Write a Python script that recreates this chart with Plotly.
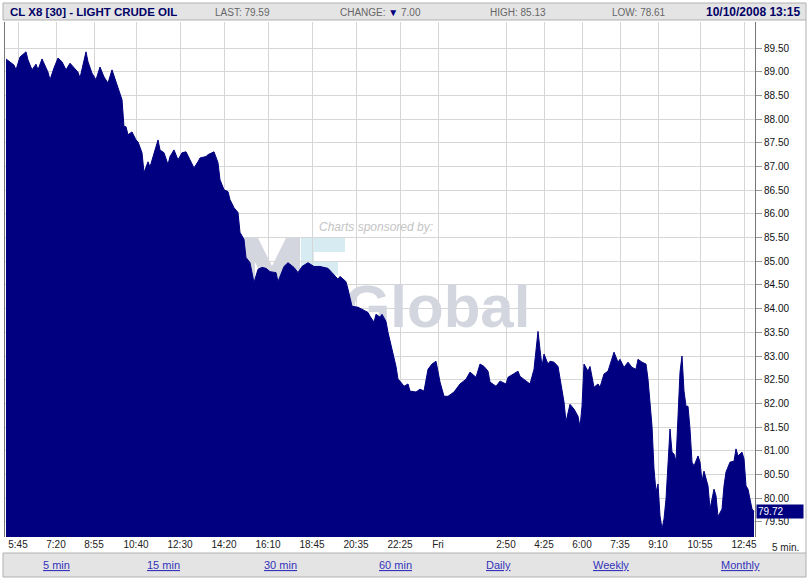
import plotly.graph_objects as go

# ---- data (5-minute bar index, price) ----
bar_index = [0, 2, 4, 5, 7, 10, 11, 13, 15, 16, 18, 21, 22, 24, 26, 28, 30, 32, 34, 36, 37,
             40, 41, 43, 45, 46, 47, 49, 51, 53, 55, 56, 58, 59, 60, 61, 63, 65, 66, 68, 69,
             71, 72, 76, 77, 79, 81, 82, 84, 86, 88, 90, 92, 94, 96, 97, 100, 101, 104, 106,
             107, 109, 111, 112, 114, 116, 117, 119, 120, 122, 124, 126, 128, 130, 132, 135,
             136, 139, 141, 144, 146, 148, 151, 154, 157, 161, 163, 166, 167, 170, 171, 173,
             176, 178, 181, 182, 184, 185, 187, 188, 190, 191, 193, 195, 196, 197, 199, 201,
             202, 205, 207, 209, 211, 213, 215, 217, 219, 221, 224, 227, 230, 232, 235, 237,
             239, 241, 242, 245, 247, 250, 251, 254, 256, 257, 260, 262, 264, 265, 266, 267,
             268, 269, 271, 272, 274, 276, 277, 279, 280, 282, 284, 286, 287, 288, 289, 291,
             292, 294, 296, 297, 299, 301, 304, 306, 307, 309, 311, 313, 315, 316, 318, 320,
             321, 322, 323, 324, 325, 326, 327, 328, 329, 330, 331, 332, 333, 334, 335, 336,
             337, 338, 339, 340, 341, 342, 343, 344, 346, 347, 348, 349, 351, 352, 354, 355,
             356, 358, 359, 360, 362, 364, 365, 366, 368, 369, 370, 371, 373, 374]
price = [89.27, 89.21, 89.14, 89.04, 89.31, 89.42, 89.25, 89.04, 89.16, 89.04, 89.27, 88.99,
         88.83, 89.08, 89.29, 89.21, 89.04, 89.18, 89.08, 88.99, 88.87, 89.42, 89.21, 88.97,
         88.83, 88.99, 89.10, 88.89, 88.76, 89.04, 88.78, 88.68, 88.41, 87.84, 87.84, 87.67,
         87.73, 87.56, 87.52, 87.29, 86.87, 87.10, 86.99, 87.56, 87.35, 87.29, 87.04, 87.21,
         87.35, 87.14, 87.29, 87.31, 87.14, 86.97, 87.10, 87.18, 87.21, 87.25, 87.31, 87.08,
         86.72, 86.51, 86.47, 86.30, 86.13, 86.03, 85.61, 85.46, 85.08, 84.97, 84.55, 84.83,
         84.87, 84.85, 84.78, 84.76, 84.57, 84.89, 84.97, 84.87, 84.76, 84.89, 84.97, 84.89,
         84.89, 84.85, 84.76, 84.62, 84.68, 84.57, 84.41, 84.05, 84.03, 83.98, 83.92, 83.84,
         83.71, 83.88, 83.82, 83.88, 83.73, 83.50, 83.14, 82.78, 82.51, 82.47, 82.36, 82.41,
         82.26, 82.24, 82.30, 82.26, 82.72, 82.83, 82.89, 82.45, 82.15, 82.15, 82.24, 82.41,
         82.51, 82.66, 82.55, 82.83, 82.78, 82.68, 82.45, 82.36, 82.47, 82.41, 82.55, 82.62,
         82.68, 82.57, 82.47, 82.41, 82.72, 83.14, 83.52, 83.14, 82.78, 83.04, 82.83, 82.89,
         82.87, 82.78, 82.51, 82.03, 81.61, 81.98, 81.88, 81.73, 81.50, 81.94, 82.83, 82.68,
         82.78, 82.34, 82.41, 82.34, 82.62, 82.68, 83.08, 82.87, 82.93, 82.76, 82.87, 82.76,
         82.72, 82.93, 82.87, 82.83, 82.51, 81.94, 81.52, 80.62, 80.13, 80.30, 79.63, 79.35,
         79.56, 79.98, 80.78, 81.46, 80.97, 80.93, 80.78, 81.82, 82.66, 83.00, 82.26, 81.94,
         81.94, 81.46, 80.76, 80.68, 80.89, 80.76, 80.36, 80.57, 80.26, 79.77, 80.19, 80.05,
         79.61, 79.77, 80.26, 80.55, 80.76, 80.78, 81.04, 80.89, 80.97, 80.83, 80.26, 80.19,
         79.77, 79.72]

tick_bars = [6, 25, 44, 65, 87, 109, 131, 153, 175, 197, 216, 250, 269, 288, 307, 326, 347, 369]
tick_labels = ["5:45", "7:20", "8:55", "10:40", "12:30", "14:20", "16:10", "18:45", "20:35",
               "22:25", "Fri", "2:50", "4:25", "6:00", "7:35", "9:10", "10:55", "12:45"]
price_ticks = [79.5, 80.0, 80.5, 81.0, 81.5, 82.0, 82.5, 83.0, 83.5, 84.0, 84.5, 85.0,
               85.5, 86.0, 86.5, 87.0, 87.5, 88.0, 88.5, 89.0, 89.5]

title_text = "CL X8 [30] - LIGHT CRUDE OIL"
last_value = 79.59
change_value = 7.00
high_value = 85.13
low_value = 78.61
stamp_text = "10/10/2008 13:15"
current_value = price[-1]
link_labels = ["5 min", "15 min", "30 min", "60 min", "Daily", "Weekly", "Monthly"]

# ---- geometry helpers (pixel -> paper) ----
W, H = 811, 579
L, R, T, B = 5, 56, 22, 42
PW, PH = W - L - R, H - T - B


def px(x):
    return (x - L) / PW


def py(y):
    return (H - B - y) / PH


def poly(points):
    return "M " + " L ".join(f"{px(a):.5f},{py(b):.5f}" for a, b in points) + " Z"


NAVY = "#000080"
fig = go.Figure()

# watermark word (drawn first so the price area covers it)
fig.add_trace(go.Scatter(x=[215.5], y=[83.93], mode="text", text=["Global"], hoverinfo="skip",
                         textfont=dict(family="Liberation Sans", size=60,
                                       color="#d3d6de", weight="bold"), showlegend=False))
fig.add_trace(go.Scatter(x=[185], y=[85.70], mode="text", text=["<i>Charts sponsored by:</i>"],
                         hoverinfo="skip",
                         textfont=dict(family="Liberation Sans", size=12, color="#c4c4c4"),
                         showlegend=False))

# price area
fig.add_trace(go.Scatter(x=bar_index, y=price, mode="lines", fill="tozeroy",
                         line=dict(color=NAVY, width=1), fillcolor=NAVY, showlegend=False))

fig.update_xaxes(range=[-0.5, 374.5], tickvals=tick_bars, ticktext=tick_labels,
                 showgrid=True, gridcolor="#d6d6d6", gridwidth=1, zeroline=False,
                 showline=False, ticks="",
                 tickfont=dict(family="Liberation Sans", size=10, color="#222"))
fig.update_yaxes(range=[79.18, 90.05], side="right", tickvals=price_ticks,
                 tickformat=".2f", ticks="outside", ticklen=6, tickcolor="#999",
                 showline=True, linecolor="#777", linewidth=1, mirror=True,
                 showgrid=True, gridcolor="#d6d6d6", zeroline=False,
                 tickfont=dict(family="Liberation Sans", size=10, color="#111"))

shapes = [
    # header strip
    dict(type="rect", xref="paper", yref="paper", x0=px(3), x1=px(806), y0=py(20), y1=py(3),
         fillcolor="#e4e4e4", line=dict(color="#b0b0b0", width=1), layer="below"),
    # link strip
    dict(type="rect", xref="paper", yref="paper", x0=px(3), x1=px(806), y0=py(577), y1=py(553),
         fillcolor="#e4e4e4", line=dict(color="#b0b0b0", width=1), layer="below"),
    # right frame line
    dict(type="line", xref="paper", yref="paper", x0=px(806), x1=px(806), y0=py(553), y1=py(20),
         line=dict(color="#b0b0b0", width=1)),
    # sponsor logo "M" (graphic)
    dict(type="path", xref="paper", yref="paper", layer="below", line=dict(width=0),
         fillcolor="#d3d6de",
         path=poly([(243, 238), (258, 238), (272, 266), (286, 238), (300, 238), (300, 300),
                    (289, 300), (289, 262), (276, 290), (268, 290), (255, 262), (255, 300),
                    (243, 300)])),
    # sponsor logo "F" (graphic)
    dict(type="path", xref="paper", yref="paper", layer="below", line=dict(width=0),
         fillcolor="#d6ebf2",
         path=poly([(301, 238), (345, 238), (345, 252), (314, 252), (314, 262), (338, 262),
                    (338, 275), (314, 275), (314, 300), (301, 300)])),
]

gray = "#666666"
ann = [
    dict(x=px(8), y=py(12), xanchor="left", text=f"<b>{title_text}</b>",
         font=dict(family="Liberation Sans", size=11.5, color="#000066")),
    dict(x=px(213), y=py(12), xanchor="left", text=f"LAST: {last_value:.2f}",
         font=dict(family="Liberation Sans", size=10, color=gray)),
    dict(x=px(338), y=py(12), xanchor="left",
         text=f"CHANGE: <span style='color:{NAVY}'>▼</span> {change_value:.2f}",
         font=dict(family="Liberation Sans", size=10, color=gray)),
    dict(x=px(488), y=py(12), xanchor="left", text=f"HIGH: {high_value:.2f}",
         font=dict(family="Liberation Sans", size=10, color=gray)),
    dict(x=px(610), y=py(12), xanchor="left", text=f"LOW: {low_value:.2f}",
         font=dict(family="Liberation Sans", size=10, color=gray)),
    dict(x=px(802), y=py(12), xanchor="right", text=f"<b>{stamp_text}</b>",
         font=dict(family="Liberation Sans", size=12, color="#000066")),
    # current value box
    dict(x=px(756), y=current_value, yref="y", xanchor="left", text=f"{current_value:.2f}",
         bgcolor=NAVY, width=44, align="left", borderpad=1,
         font=dict(family="Liberation Sans", size=10, color="white")),
    # bar size label
    dict(x=px(770), y=py(547), xanchor="left", text="5 min.",
         font=dict(family="Liberation Sans", size=10, color="#222")),
]
for lbl, cx in zip(link_labels, [56, 163, 280, 395, 499, 611, 740]):
    ann.append(dict(x=px(cx), y=py(565), xanchor="center", text=f"<u>{lbl}</u>",
                    font=dict(family="Liberation Sans", size=11, color="#3333bb")))
for a in ann:
    a.setdefault("xref", "paper")
    a.setdefault("yref", "paper")
    a["showarrow"] = False
    a.setdefault("yanchor", "middle")

fig.update_layout(width=W, height=H, margin=dict(l=L, r=R, t=T, b=B, pad=0),
                  paper_bgcolor="white", plot_bgcolor="white",
                  shapes=shapes, annotations=ann, showlegend=False)

fig.write_html("out.html", config={"displayModeBar": False},
               post_script="document.body.style.margin='0px';"
                           "document.body.style.overflow='hidden';")
